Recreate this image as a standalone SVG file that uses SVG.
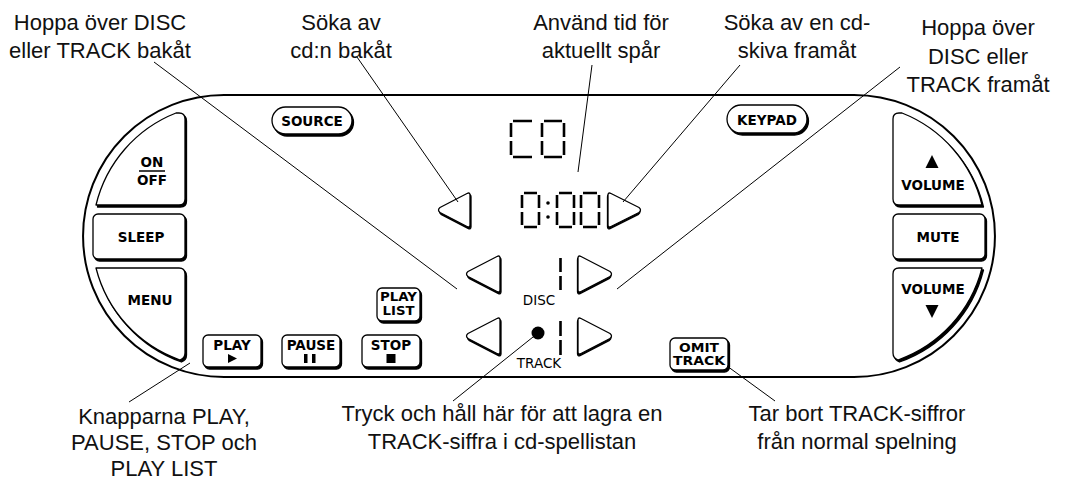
<svg xmlns="http://www.w3.org/2000/svg" width="1081" height="483" viewBox="0 0 1081 483">
<style>
.ann{font-family:"Liberation Sans",Arial,sans-serif;font-size:22px;fill:#111;text-anchor:middle}
.btn{font-family:"DejaVu Sans",sans-serif;font-weight:bold;font-size:13.5px;fill:#000;text-anchor:middle}
.btn2{font-family:"DejaVu Sans",sans-serif;font-weight:bold;font-size:11.5px;fill:#000;text-anchor:middle}
.lbl{font-family:"DejaVu Sans",sans-serif;font-size:13.5px;fill:#000;text-anchor:middle}
.face{fill:#fff;stroke:#000;stroke-width:1.3;stroke-linejoin:round}
.shadow{fill:#000;stroke:#000;stroke-width:1.3;stroke-linejoin:round}
.seg{fill:none;stroke:#000;stroke-width:2.6}
.lead{stroke:#000;stroke-width:1;fill:none}
</style>
<rect width="1081" height="483" fill="#fff"/>
<g id="body">
<path d="M224,95 H854 A141,141 0 0 1 854,377 H224 A141,141 0 0 1 224,95 Z" fill="none" stroke="#000" stroke-width="2"/>
</g>
<g id="btn-onoff">
<path class="shadow" transform="translate(1.5,2)" d="M176,113 H179 Q185,113 185,119 V199 Q185,205 179,205 H96 A132,132 0 0 1 176,113 Z"/>
<path class="face" d="M176,113 H179 Q185,113 185,119 V199 Q185,205 179,205 H96 A132,132 0 0 1 176,113 Z"/>
<text class="btn" x="152" y="167">ON</text>
<line x1="139" y1="171" x2="165" y2="171" stroke="#000" stroke-width="1.5"/>
<text class="btn" x="152" y="185">OFF</text>
</g>
<g id="btn-sleep">
<rect class="shadow" x="94.5" y="216" width="92" height="45" rx="5"/>
<rect class="face" x="93" y="214" width="92" height="45" rx="5"/>
<text class="btn" x="141" y="242">SLEEP</text>
</g>
<g id="btn-menu">
<path class="shadow" transform="translate(1.5,2)" d="M185,274 Q185,268 179,268 H96 A132,132 0 0 0 180,360 Q185,358 185,353 Z"/>
<path class="face" d="M185,274 Q185,268 179,268 H96 A132,132 0 0 0 180,360 Q185,358 185,353 Z"/>
<text class="btn" x="150" y="305">MENU</text>
</g>
<g id="btn-volup">
<path class="shadow" transform="translate(1.5,2)" d="M893,119 Q893,113 899,113 H902 A132,132 0 0 1 982,205 H899 Q893,205 893,199 Z"/>
<path class="face" d="M893,119 Q893,113 899,113 H902 A132,132 0 0 1 982,205 H899 Q893,205 893,199 Z"/>
<path d="M932,155 L938.5,168 H925.5 Z" fill="#000"/>
<text class="btn" x="933" y="190">VOLUME</text>
</g>
<g id="btn-mute">
<rect class="shadow" x="894.5" y="216" width="92" height="45" rx="5"/>
<rect class="face" x="893" y="214" width="92" height="45" rx="5"/>
<text class="btn" x="938" y="242">MUTE</text>
</g>
<g id="btn-voldown">
<path class="shadow" transform="translate(1.5,2)" d="M893,274 Q893,268 899,268 H982 A132,132 0 0 1 898,360 Q893,358 893,353 Z"/>
<path class="face" d="M893,274 Q893,268 899,268 H982 A132,132 0 0 1 898,360 Q893,358 893,353 Z"/>
<text class="btn" x="933" y="294">VOLUME</text>
<path d="M925.5,305 H938.5 L932,318 Z" fill="#000"/>
</g>
<g id="btn-source">
<rect class="shadow" x="273.5" y="109" width="80" height="27" rx="13.5"/>
<rect class="face" x="272" y="107" width="80" height="27" rx="13.5"/>
<text class="btn" x="312" y="125.5">SOURCE</text>
</g>
<g id="btn-keypad">
<rect class="shadow" x="728.5" y="107" width="80" height="28" rx="14"/>
<rect class="face" x="727" y="105" width="80" height="28" rx="14"/>
<text class="btn" x="767" y="124.5">KEYPAD</text>
</g>
<g id="disp-cd">
<path class="seg" d="M513,121 H532 M511,123 V137 M511,141 V155 M513,157 H532"/>
<path class="seg" d="M544,121 H562 M542,123 V137 M542,141 V155 M564,123 V137 M564,141 V155 M544,157 H562"/>
</g>
<g id="disp-time">
<path class="seg" d="M524,193 H537 M522,195 V208 M522,212 V225 M539,195 V208 M539,212 V225 M524,227 H537"/>
<circle cx="548" cy="203" r="1.8" fill="#000"/>
<circle cx="548" cy="217" r="1.8" fill="#000"/>
<path class="seg" d="M559,193 H572 M557,195 V208 M557,212 V225 M574,195 V208 M574,212 V225 M559,227 H572"/>
<path class="seg" d="M583,193 H597 M581,195 V208 M581,212 V225 M599,195 V208 M599,212 V225 M583,227 H597"/>
</g>
<g id="arrow-seek-back">
<path class="shadow" transform="translate(1,1.8)" d="M470,195 Q470,192 467,193.5 L440,207.5 Q437,210 440,212.5 L467,226.5 Q470,228 470,225 Z"/>
<path class="face" d="M470,195 Q470,192 467,193.5 L440,207.5 Q437,210 440,212.5 L467,226.5 Q470,228 470,225 Z"/>
</g>
<g id="arrow-seek-fwd">
<path class="shadow" transform="translate(-0.5,1.8)" d="M608,195 Q608,192 611,193.5 L639,207.5 Q642,210 639,212.5 L611,226.5 Q608,228 608,225 Z"/>
<path class="face" d="M608,195 Q608,192 611,193.5 L639,207.5 Q642,210 639,212.5 L611,226.5 Q608,228 608,225 Z"/>
</g>
<g id="arrow-disc-back">
<path class="shadow" transform="translate(1,1.8)" d="M500,258 Q500,255 497,256.5 L468,271.5 Q465,274 468,276.5 L497,291.5 Q500,293 500,290 Z"/>
<path class="face" d="M500,258 Q500,255 497,256.5 L468,271.5 Q465,274 468,276.5 L497,291.5 Q500,293 500,290 Z"/>
</g>
<g id="arrow-disc-fwd">
<path class="shadow" transform="translate(-0.5,1.8)" d="M578,258 Q578,255 581,256.5 L610,271.5 Q613,274 610,276.5 L581,291.5 Q578,293 578,290 Z"/>
<path class="face" d="M578,258 Q578,255 581,256.5 L610,271.5 Q613,274 610,276.5 L581,291.5 Q578,293 578,290 Z"/>
</g>
<g id="disc-digit">
<path class="seg" d="M560.5,258 V272 M560.5,276 V290"/>
<text class="lbl" x="539" y="305">DISC</text>
</g>
<g id="arrow-track-back">
<path class="shadow" transform="translate(1,1.8)" d="M500,320 Q500,317 497,318.5 L468,333.5 Q465,336 468,338.5 L497,353.5 Q500,355 500,352 Z"/>
<path class="face" d="M500,320 Q500,317 497,318.5 L468,333.5 Q465,336 468,338.5 L497,353.5 Q500,355 500,352 Z"/>
</g>
<g id="arrow-track-fwd">
<path class="shadow" transform="translate(-0.5,1.8)" d="M578,320 Q578,317 581,318.5 L610,333.5 Q613,336 610,338.5 L581,353.5 Q578,355 578,352 Z"/>
<path class="face" d="M578,320 Q578,317 581,318.5 L610,333.5 Q613,336 610,338.5 L581,353.5 Q578,355 578,352 Z"/>
</g>
<g id="track-digit">
<path class="seg" d="M560.5,321 V336 M560.5,340 V355"/>
<circle cx="538" cy="333" r="6.5" fill="#000"/>
<text class="lbl" x="539" y="368">TRACK</text>
</g>
<g id="btn-playlist">
<rect class="shadow" x="378.5" y="290" width="43" height="33" rx="5"/>
<rect class="face" x="377" y="288" width="43" height="33" rx="5"/>
<text class="btn2" x="398.5" y="301" textLength="37" lengthAdjust="spacingAndGlyphs">PLAY</text>
<text class="btn2" x="398.5" y="315" textLength="32" lengthAdjust="spacingAndGlyphs">LIST</text>
</g>
<g id="btn-play">
<rect class="shadow" x="204.5" y="337" width="58" height="32" rx="5"/>
<rect class="face" x="203" y="335" width="58" height="32" rx="5"/>
<text class="btn" x="232" y="350">PLAY</text>
<path d="M228,354 L237,358.5 L228,363 Z" fill="#000"/>
</g>
<g id="btn-pause">
<rect class="shadow" x="283.5" y="337" width="58" height="32" rx="5"/>
<rect class="face" x="282" y="335" width="58" height="32" rx="5"/>
<text class="btn" x="311" y="350">PAUSE</text>
<rect x="304" y="354" width="3.5" height="9" fill="#000"/>
<rect x="312" y="354" width="3.5" height="9" fill="#000"/>
</g>
<g id="btn-stop">
<rect class="shadow" x="363.5" y="337" width="58" height="32" rx="5"/>
<rect class="face" x="362" y="335" width="58" height="32" rx="5"/>
<text class="btn" x="391" y="350">STOP</text>
<rect x="386.5" y="354" width="9" height="9" fill="#000"/>
</g>
<g id="btn-omit">
<rect class="shadow" x="671.5" y="340" width="58" height="32" rx="5"/>
<rect class="face" x="670" y="338" width="58" height="32" rx="5"/>
<text class="btn2" x="699" y="351.5" textLength="40" lengthAdjust="spacingAndGlyphs">OMIT</text>
<text class="btn2" x="699" y="365" textLength="52" lengthAdjust="spacingAndGlyphs">TRACK</text>
</g>
<g id="connectors">
<line class="lead" x1="154" y1="62" x2="457" y2="289"/>
<line class="lead" x1="357" y1="57" x2="458" y2="202"/>
<line class="lead" x1="592" y1="65" x2="578" y2="172"/>
<line class="lead" x1="740" y1="65" x2="623" y2="202"/>
<line class="lead" x1="900" y1="67" x2="617" y2="289"/>
<line class="lead" x1="190" y1="363" x2="129" y2="402"/>
<line class="lead" x1="533" y1="337" x2="453" y2="401"/>
<line class="lead" x1="727" y1="366" x2="775" y2="401"/>
</g>
<g id="labels-top">
<text class="ann" x="100" y="30">Hoppa över DISC</text>
<text class="ann" x="100" y="58">eller TRACK bakåt</text>
<text class="ann" x="341" y="30">Söka av</text>
<text class="ann" x="341" y="58">cd:n bakåt</text>
<text class="ann" x="601" y="30">Använd tid för</text>
<text class="ann" x="601" y="58">aktuellt spår</text>
<text class="ann" x="797" y="30">Söka av en cd-</text>
<text class="ann" x="797" y="58">skiva framåt</text>
<text class="ann" x="978" y="35">Hoppa över</text>
<text class="ann" x="978" y="63.5">DISC eller</text>
<text class="ann" x="978" y="92">TRACK framåt</text>
</g>
<g id="labels-bottom">
<text class="ann" x="164" y="424">Knapparna PLAY,</text>
<text class="ann" x="164" y="450">PAUSE, STOP och</text>
<text class="ann" x="164" y="476">PLAY LIST</text>
<text class="ann" x="502" y="421">Tryck och håll här för att lagra en</text>
<text class="ann" x="502" y="449">TRACK-siffra i cd-spellistan</text>
<text class="ann" x="857" y="421">Tar bort TRACK-siffror</text>
<text class="ann" x="857" y="449">från normal spelning</text>
</g>
</svg>
